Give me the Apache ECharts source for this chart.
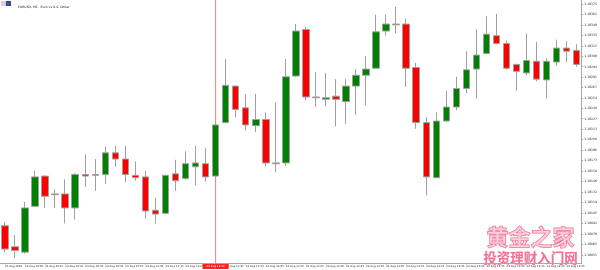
<!DOCTYPE html>
<html><head><meta charset="utf-8">
<script src="https://cdn.jsdelivr.net/npm/echarts@6/dist/echarts.min.js"></script>
<style>html,body{margin:0;padding:0;background:#fff}#c{width:600px;height:270px}</style>
</head><body><div id="c"></div>
<script>
const title = 'EURUSD, M5:  Euro vs U.S. Dollar';
const dateLabel = '24 Aug 2020';
const dayPrefix = '24 Aug ';
const times = ['09:55','10:00','10:05','10:10','10:15','10:20','10:25','10:30','10:35','10:40',
 '10:45','10:50','10:55','11:00','11:05','11:10','11:15','11:20','11:25','11:30',
 '11:35','11:40','11:45','11:50','11:55','12:00','12:05','12:10','12:15','12:20',
 '12:25','12:30','12:35','12:40','12:45','12:50','12:55','13:00','13:05','13:10',
 '13:15','13:20','13:25','13:30','13:35','13:40','13:45','13:50','13:55','14:00',
 '14:05','14:10','14:15','14:20','14:25','14:30','14:35','14:40'];
// [open, close, low, high]
const opens  = [1.18089,1.18062,1.18055,1.18114,1.18153,1.18129,1.18130,1.18112,1.18155,1.18154,
 1.18155,1.18183,1.18175,1.18154,1.18152,1.18109,1.18105,1.18156,1.18150,1.18165,
 1.18169,1.18153,1.18222,1.18269,1.18241,1.18218,1.18226,1.18170,1.18170,1.18282,
 1.18342,1.18255,1.18252,1.18256,1.18249,1.18269,1.18283,1.18292,1.18340,1.18349,
 1.18349,1.18293,1.18222,1.18151,1.18224,1.18242,1.18266,1.18291,1.18311,1.18334,
 1.18324,1.18297,1.18286,1.18301,1.18277,1.18300,1.18318,1.18315];
const closes = [1.18059,1.18057,1.18112,1.18152,1.18127,1.18130,1.18112,1.18155,1.18153,1.18155,
 1.18183,1.18175,1.18155,1.18151,1.18108,1.18104,1.18154,1.18147,1.18169,1.18170,
 1.18152,1.18219,1.18270,1.18239,1.18219,1.18226,1.18170,1.18169,1.18281,1.18340,
 1.18255,1.18254,1.18254,1.18252,1.18269,1.18283,1.18291,1.18339,1.18349,1.18348,
 1.18292,1.18222,1.18152,1.18224,1.18242,1.18266,1.18290,1.18309,1.18336,1.18324,
 1.18292,1.18288,1.18302,1.18278,1.18301,1.18318,1.18314,1.18297];
const lows   = [1.18055,1.18047,1.18053,1.18113,1.18112,1.18112,1.18092,1.18097,1.18139,1.18134,
 1.18143,1.18165,1.18145,1.18147,1.18098,1.18092,1.18104,1.18134,1.18148,1.18141,
 1.18146,1.18152,1.18221,1.18229,1.18212,1.18210,1.18166,1.18158,1.18166,1.18281,
 1.18251,1.18242,1.18243,1.18217,1.18220,1.18232,1.18244,1.18291,1.18334,1.18337,
 1.18268,1.18214,1.18128,1.18150,1.18223,1.18238,1.18260,1.18253,1.18310,1.18323,
 1.18290,1.18263,1.18283,1.18275,1.18253,1.18295,1.18300,1.18294];
const highs  = [1.18094,1.18077,1.18120,1.18160,1.18154,1.18136,1.18149,1.18157,1.18181,1.18175,
 1.18191,1.18192,1.18192,1.18172,1.18160,1.18125,1.18155,1.18174,1.18185,1.18192,
 1.18189,1.18225,1.18304,1.18270,1.18259,1.18259,1.18235,1.18248,1.18304,1.18349,
 1.18345,1.18287,1.18286,1.18278,1.18278,1.18291,1.18308,1.18361,1.18361,1.18371,
 1.18356,1.18299,1.18229,1.18235,1.18263,1.18281,1.18314,1.18342,1.18359,1.18362,
 1.18328,1.18298,1.18337,1.18326,1.18305,1.18329,1.18327,1.18323];
const priceTicks = [1.18375,1.18362,1.18348,1.18335,1.18321,1.18308,1.18294,1.18281,1.18267,1.18254,
 1.18240,1.18227,1.18213,1.18200,1.18186,1.18173,1.18159,1.18146,1.18132,1.18119,
 1.18105,1.18092,1.18078,1.18065,1.18051];
const priceMin = 1.18041, priceMax = 1.18380;
const markedTime = '11:40';
const watermark1 = '黄金之家';
const watermark2 = '投资理财入门网';

const ohlc = opens.map((o, i) => [o, closes[i], lows[i], highs[i]]);
const cursorBar = times.map(t => t === markedTime ? priceMax : '-');
const FS = 3.1, FSX = 2.7;
const chart = echarts.init(document.getElementById('c'), null, {renderer: 'canvas'});
chart.setOption({
  animation: false,
  backgroundColor: '#ffffff',
  title: {text: title, left: 13, top: 1, textStyle: {fontSize: FS, fontWeight: 'normal', color: '#222', fontFamily: 'DejaVu Sans'}},
  grid: {left: -6.1, right: 16.7, top: 0, bottom: 7, containLabel: false},
  xAxis: {
    type: 'category', data: times, boundaryGap: true,
    axisLine: {show: true, lineStyle: {color: '#a8a8a8', width: 1}},
    axisTick: {show: true, interval: 1, alignWithLabel: true, length: 1.5, lineStyle: {color: '#a8a8a8'}},
    axisLabel: {interval: 1, align: 'left', fontSize: FSX, color: '#333', margin: 2, fontFamily: 'DejaVu Sans',
      formatter: (v, i) => i === 0 ? dateLabel : dayPrefix + v},
    splitLine: {show: false}
  },
  yAxis: {
    type: 'value', position: 'right', min: priceMin, max: priceMax, scale: true,
    axisLine: {show: true, lineStyle: {color: '#a8a8a8', width: 1}},
    axisTick: {show: true, customValues: priceTicks, length: 1.5, lineStyle: {color: '#a8a8a8'}},
    axisLabel: {customValues: priceTicks, fontSize: FS, color: '#333', margin: 2.5, fontFamily: 'DejaVu Sans',
      formatter: v => v.toFixed(5)},
    splitLine: {show: false}
  },
  series: [{
    type: 'bar', data: cursorBar, barWidth: 1, z: 1, silent: true,
    itemStyle: {color: '#f47a7a'},
    markLine: {
      silent: true, symbol: ['none', 'none'], animation: false,
      lineStyle: {color: 'rgba(0,0,0,0)', width: 0.01, opacity: 1},
      label: {show: true, position: 'start', distance: 1, formatter: dayPrefix + markedTime, opacity: 1,
        fontSize: FSX, color: '#fff', backgroundColor: '#ff2020', padding: [1, 4], fontFamily: 'DejaVu Sans'},
      data: [{xAxis: markedTime}]
    }
  }, {
    type: 'candlestick', data: ohlc, barWidth: 7, z: 3,
    itemStyle: {color: '#008000', color0: '#ff0000', borderColor: '#a0a0a0', borderColor0: '#a0a0a0', borderWidth: 1}
  }],
  graphic: [
    {type: 'rect', left: 1, top: 1, shape: {width: 5, height: 5}, style: {fill: '#d8d0e0'}},
    {type: 'rect', left: 6, top: 1, shape: {width: 5, height: 5}, style: {fill: '#2a48a0'}},
    {type: 'rect', left: 7, top: 3, shape: {width: 3, height: 1}, style: {fill: '#d03040'}},
    {type: 'text', left: 486, top: 225, style: {text: watermark1, fontSize: 22, fontWeight: 'bold',
      fontFamily: 'Noto Sans CJK SC', fill: 'rgba(252,190,205,0.7)', stroke: '#ea7090', lineWidth: 1}},
    {type: 'text', left: 483, top: 251, style: {text: watermark2, fontSize: 13.5, fontWeight: 'bold',
      fontFamily: 'Noto Sans CJK SC', fill: 'rgba(240,90,130,0.85)', stroke: 'rgba(255,220,230,0.9)', lineWidth: 0.5}}
  ]
});
</script></body></html>
